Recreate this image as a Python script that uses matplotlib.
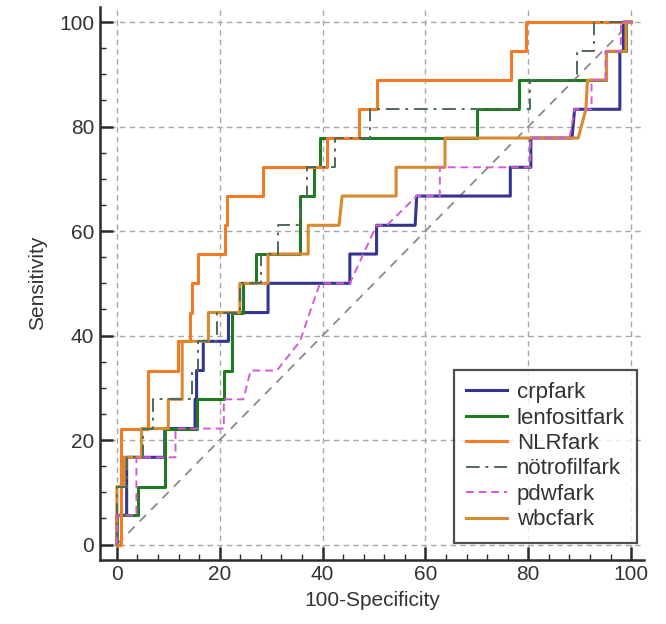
import matplotlib
matplotlib.use("Agg")
import matplotlib.pyplot as plt
from matplotlib.ticker import MultipleLocator

plt.rcParams['font.family'] = ['Liberation Sans', 'DejaVu Sans']

# ROC vertices (100-Specificity, Sensitivity)
crp_fpr = [0, 0, 1.9, 1.9, 9.3, 9.3, 15.2, 15.2, 15.5, 15.5, 16.8, 16.8, 21.7, 21.7,
           29.4, 29.4, 45.3, 45.3, 50.5, 50.5, 58.0, 58.3, 76.5, 76.5, 80.5, 80.5,
           88.5, 89.0, 97.8, 97.8, 98.5, 98.5, 100]
crp_tpr = [0, 5.6, 5.6, 16.7, 16.7, 22.2, 22.2, 27.8, 27.8, 33.3, 33.3, 38.9, 38.9, 44.4,
           44.4, 50, 50, 55.6, 55.6, 61.1, 61.1, 66.7, 66.7, 72.2, 72.2, 77.8,
           77.8, 83.3, 83.3, 94.4, 94.4, 100, 100]

lenf_fpr = [0, 0, 4.1, 4.1, 9.3, 9.3, 15.5, 15.5, 20.8, 20.8, 22.3, 22.3, 24.5, 24.5,
            27.1, 27.1, 35.6, 35.6, 38.3, 38.3, 39.5, 39.5, 70.0, 70.0, 78.1, 78.1,
            95.2, 95.2, 99.0, 99.0, 100]
lenf_tpr = [0, 5.6, 5.6, 11.1, 11.1, 22.2, 22.2, 27.8, 27.8, 33.3, 33.3, 44.4, 44.4, 50,
            50, 55.6, 55.6, 66.7, 66.7, 72.2, 72.2, 77.8, 77.8, 83.3, 83.3, 88.9,
            88.9, 94.4, 94.4, 100, 100]

nlr_fpr = [0, 0.8, 0.8, 6.0, 6.0, 11.8, 11.8, 14.2, 14.2, 14.6, 14.6, 15.8, 15.8, 21.0,
           21.0, 21.5, 21.5, 28.5, 28.5, 40.9, 40.9, 47.0, 47.0, 50.5, 50.5, 76.6,
           76.6, 79.5, 79.5, 100]
nlr_tpr = [0, 0, 22.2, 22.2, 33.3, 33.3, 38.9, 38.9, 44.4, 44.4, 50, 50, 55.6, 55.6,
           61.1, 61.1, 66.7, 66.7, 72.2, 72.2, 77.8, 77.8, 83.3, 83.3, 88.9, 88.9,
           94.4, 94.4, 100, 100]

notr_fpr = [0, 0, 1.9, 1.9, 5.0, 5.0, 7.1, 7.1, 14.7, 14.7, 15.8, 15.8, 19.4, 19.4,
            24.0, 24.0, 28.0, 28.0, 31.4, 31.4, 35.6, 35.6, 36.9, 36.9, 42.4, 42.4,
            49.2, 49.2, 80.4, 80.4, 89.4, 89.4, 92.7, 92.7, 100]
notr_tpr = [0, 11.1, 11.1, 16.7, 16.7, 22.2, 22.2, 27.8, 27.8, 33.3, 33.3, 38.9, 38.9, 44.4,
            44.4, 50, 50, 55.6, 55.6, 61.1, 61.1, 66.7, 66.7, 72.2, 72.2, 77.8,
            77.8, 83.3, 83.3, 88.9, 88.9, 94.4, 94.4, 100, 100]

pdw_fpr = [0, 0, 3.8, 3.8, 11.4, 11.4, 20.8, 20.8, 24.6, 26.0, 31.1, 35.6, 37.5, 39.5,
           45.3, 50.5, 52.5, 58.3, 62.8, 62.8, 80.4, 80.4, 88.0, 89.0, 92.3, 92.3,
           95.0, 95.0, 98.0, 98.0, 100]
pdw_tpr = [0, 5.6, 5.6, 16.7, 16.7, 22.2, 22.2, 27.8, 27.8, 33.3, 33.3, 38.9, 44.4, 50,
           50, 61.1, 61.1, 66.7, 66.7, 72.2, 72.2, 77.8, 77.8, 83.3, 83.3, 88.9,
           88.9, 94.4, 94.4, 100, 100]

wbc_fpr = [0, 0, 1.4, 1.4, 4.8, 4.8, 10.0, 10.0, 12.7, 12.7, 17.8, 17.8, 23.9, 23.9,
           29.4, 29.4, 37.2, 37.2, 43.2, 43.8, 54.3, 54.3, 63.8, 63.8, 89.7, 91.2,
           91.5, 95.2, 95.2, 99.0, 99.0, 100]
wbc_tpr = [0, 11.1, 11.1, 16.7, 16.7, 22.2, 22.2, 27.8, 27.8, 38.9, 38.9, 44.4, 44.4, 50,
           50, 55.6, 55.6, 61.1, 61.1, 66.7, 66.7, 72.2, 72.2, 77.8, 77.8, 83.3,
           88.9, 88.9, 94.4, 94.4, 100, 100]

labels = ["crpfark", "lenfositfark", "NLRfark", "nötrofilfark", "pdwfark", "wbcfark"]

fig = plt.figure(figsize=(6.66, 6.24), dpi=100)
ax = fig.add_axes([0.150, 0.103, 0.817, 0.886])

# chance line
ax.plot([0, 100], [0, 100], color='#8a8a8a', lw=1.3, ls=(0, (5, 4)), zorder=1)

h_crp, = ax.plot(crp_fpr, crp_tpr, color='#33358f', lw=2.2, zorder=3)
h_lenf, = ax.plot(lenf_fpr, lenf_tpr, color='#1f7a22', lw=2.2, zorder=3)
h_nlr, = ax.plot(nlr_fpr, nlr_tpr, color='#f47b25', lw=2.2, zorder=4)
h_notr, = ax.plot(notr_fpr, notr_tpr, color='#4d6b58', lw=1.4,
                  ls=(0, (7, 3, 1.5, 3)), zorder=5)
h_pdw, = ax.plot(pdw_fpr, pdw_tpr, color='#d65ad6', lw=1.4, ls=(0, (4, 2.5)), zorder=5)
h_wbc, = ax.plot(wbc_fpr, wbc_tpr, color='#d88a32', lw=2.2, zorder=4)

ax.set_xlim(-3.3, 102.5)
ax.set_ylim(-2.9, 102.9)
ax.xaxis.set_major_locator(MultipleLocator(20))
ax.yaxis.set_major_locator(MultipleLocator(20))
ax.xaxis.set_minor_locator(MultipleLocator(4))
ax.yaxis.set_minor_locator(MultipleLocator(5))
ax.grid(True, which='major', color='#a8a8a8', lw=1.0, ls=(0, (4, 3)))
ax.set_axisbelow(True)

for s in ['top', 'right']:
    ax.spines[s].set_visible(False)
for s in ['left', 'bottom']:
    ax.spines[s].set_linewidth(1.8)
    ax.spines[s].set_color('#2b2b2b')

ax.tick_params(which='major', direction='in', length=9.5, width=1.8, color='#2b2b2b',
               labelsize=15, labelcolor='#333333', pad=4)
ax.tick_params(which='minor', direction='in', length=4.5, width=1.0, color='#2b2b2b')

ax.set_xlabel("100-Specificity", fontsize=15, color='#333333', labelpad=5)
ax.set_ylabel("Sensitivity", fontsize=15, color='#333333', labelpad=9)

leg = ax.legend([h_crp, h_lenf, h_nlr, h_notr, h_pdw, h_wbc], labels,
                loc='lower right', bbox_to_anchor=(0.987, 0.031), fontsize=16,
                frameon=True, fancybox=False, handlelength=1.85, handletextpad=0.45,
                labelspacing=0.2, borderpad=0.55, borderaxespad=0)
leg.get_frame().set_edgecolor('#222222')
leg.get_frame().set_linewidth(1.6)
for t in leg.get_texts():
    t.set_color('#333333')

fig.savefig("out.png", dpi=100)
